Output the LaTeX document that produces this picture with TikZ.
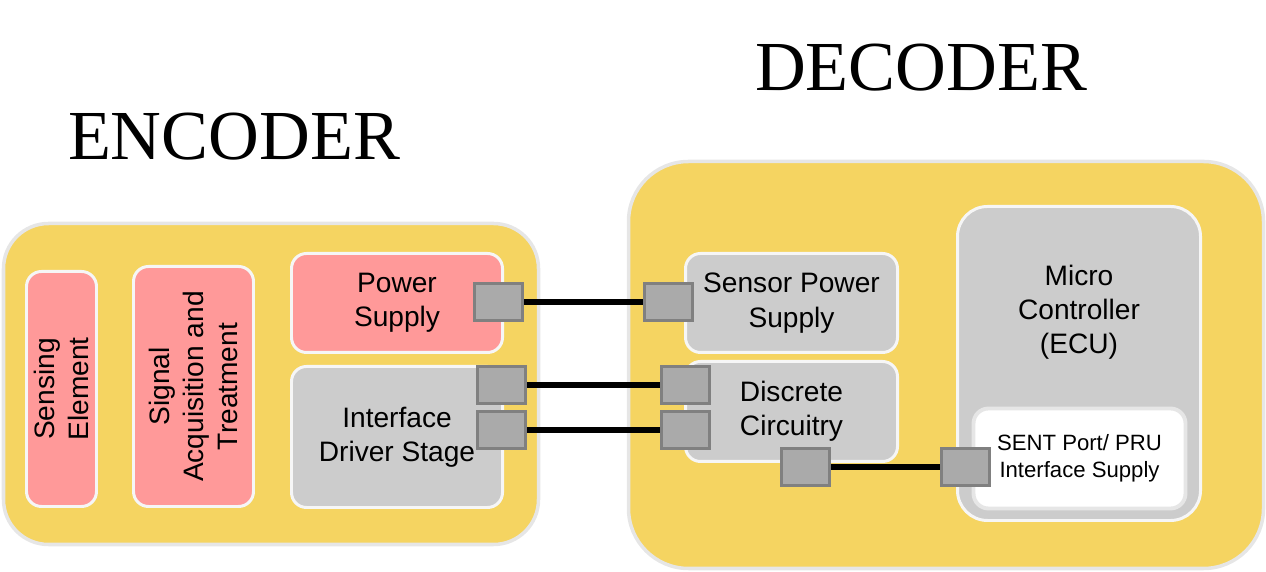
\documentclass[tikz,border=0pt]{standalone}
\usepackage{fontspec}
\setmainfont{Liberation Sans}
\newfontfamily\titlefont{Liberation Serif}
\usepackage{xcolor}
\usetikzlibrary{positioning}
\definecolor{housing}{HTML}{F5D461}
\definecolor{pinkbox}{HTML}{FF9999}
\definecolor{graybox}{HTML}{CCCCCC}
\definecolor{portfill}{HTML}{AAAAAA}
\definecolor{portline}{HTML}{808080}
\definecolor{rim}{HTML}{E6E6E6}
\tikzset{
  housingbox/.style={draw=rim, fill=housing, line width=2pt, rounded corners=#1},
  blocktext/.style={align=center, font=\fontsize{16}{19.5}\selectfont, inner sep=0pt},
  block/.style={blocktext, draw=white!93!gray, line width=1.7pt, rounded corners=0.3cm},
  port/.style={draw=portline, fill=portfill, line width=1.7pt, minimum width=0.96cm, minimum height=0.74cm, inner sep=0pt},
  wire/.style={line width=3.4pt, black},
  title/.style={font=\titlefont\fontsize{40}{48}\selectfont, anchor=base}
}
\begin{document}
\begin{tikzpicture}
  \useasboundingbox (0,0) rectangle (25.32,11.44);
  \node[title] (enctitle) at (4.68,8.24) {ENCODER};
  \node[title] (dectitle) at (18.42,9.62) {DECODER};
  \node[housingbox=0.9cm, minimum width=10.7cm, minimum height=6.42cm] (enc) at (5.42,3.76) {};
  \node[housingbox=1.2cm, minimum width=12.7cm, minimum height=8.14cm] (dec) at (18.92,4.14) {};
  \node[block, fill=pinkbox, minimum width=1.4cm, minimum height=4.7cm] (sense) at (1.23,3.66) {};
  \node[blocktext, rotate=90] (sensetext) at (sense.center) {Sensing\\Element};
  \node[block, fill=pinkbox, minimum width=2.4cm, minimum height=4.8cm] (sigacq) at (3.87,3.71) {};
  \node[blocktext, rotate=90] (sigacqtext) at (sigacq.center) {Signal\\Acquisition and\\Treatment};
  \node[block, fill=pinkbox, minimum width=4.22cm, minimum height=1.98cm] (supply) at (7.94,5.38) {Power\\Supply};
  \node[block, fill=graybox, minimum width=4.22cm, minimum height=2.82cm] (driver) at (7.94,2.70) {Interface\\Driver Stage};
  \node[block, fill=graybox, minimum width=4.24cm, minimum height=1.98cm] (sensorps) at (15.83,5.38) {Sensor Power\\Supply};
  \node[block, fill=graybox, minimum width=4.24cm, minimum height=2.0cm] (discrete) at (15.83,3.21) {Discrete\\Circuitry};
  \node[block, fill=graybox, minimum width=4.86cm, minimum height=6.28cm, rounded corners=0.6cm] (mcu) at (21.58,4.17) {};
  \node[blocktext] (mcutext) at (21.58,5.2) {Micro\\Controller\\(ECU)};
  \node[block, draw=rim, line width=2.2pt, fill=white, minimum width=4.24cm, minimum height=2.0cm,
    font=\fontsize{12.6}{15.3}\selectfont] (sent) at (21.59,2.27) {SENT Port/ PRU\\Interface Supply};
  \node[port] (supplyport) at (9.97,5.40) {};
  \node[port] (driverportA) at (10.03,3.74) {};
  \node[port] (driverportB) at (10.03,2.84) {};
  \node[port] (sensorpsport) at (13.37,5.40) {};
  \node[port] (discreteportA) at (13.71,3.74) {};
  \node[port] (discreteportB) at (13.71,2.84) {};
  \node[port] (discreteportC) at (16.11,2.10) {};
  \node[port] (sentport) at (19.31,2.10) {};
  \draw[wire] (supplyport) -- (sensorpsport);
  \draw[wire] (driverportA) -- (discreteportA);
  \draw[wire] (driverportB) -- (discreteportB);
  \draw[wire] (discreteportC) -- (sentport);
\end{tikzpicture}
\end{document}
